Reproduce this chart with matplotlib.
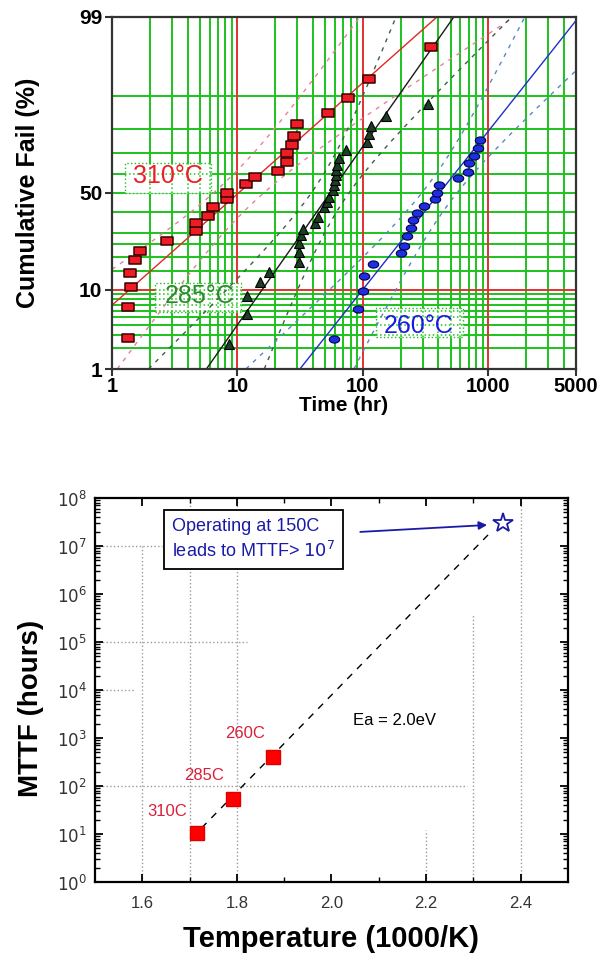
import numpy as np
import matplotlib
matplotlib.use('Agg')
import matplotlib.pyplot as plt
from matplotlib.path import Path
from matplotlib.patches import Rectangle
from matplotlib.ticker import NullLocator, FixedLocator, NullFormatter
from statistics import NormalDist

plt.rcParams['font.family'] = ['Liberation Sans', 'DejaVu Sans']

# ---------------- data: top chart (lognormal probability plot) ----------------
red_t = [1.34, 1.34, 1.42, 1.39, 1.53, 1.68, 2.75, 4.70, 4.70, 5.86, 6.43, 8.32, 8.32,
         11.8, 13.7, 20.9, 24.7, 24.7, 27.0, 28.1, 29.6, 52.5, 75.9, 112, 350]
red_p = [2.8, 6.6, 10.7, 14.5, 18.8, 22.2, 26.3, 30.8, 34.6, 38.1, 42.7, 46.8, 50.0,
         54.7, 58.4, 61.4, 65.9, 70.1, 73.7, 77.4, 81.9, 85.5, 89.5, 93.4, 97.3]

blk_t = [8.63, 12.0, 12.0, 15.0, 18.0, 30.8, 30.8, 30.8, 31.9, 33.1, 41.3, 43.6, 48.8, 51.5,
         53.5, 57.5, 58.6, 59.7, 60.8, 60.8, 61.9, 64.3, 73.1, 107.6, 111.7, 115.9, 152.8, 331]
blk_p = [2.3, 5.5, 8.7, 12.0, 14.8, 18.1, 21.8, 25.5, 28.9, 31.7, 34.6, 37.6, 42.7, 45.3,
         47.9, 51.6, 54.2, 56.8, 59.4, 61.9, 64.4, 67.8, 71.5, 75.0, 78.2, 81.2, 84.5, 88.0]

blu_t = [58.6, 91.2, 100, 101.9, 120.2, 201, 213, 225, 242, 251, 270, 308, 377, 391, 406,
         575, 692, 705, 773, 832, 863]
blu_p = [2.7, 6.3, 9.8, 13.7, 17.4, 21.4, 24.2, 28.5, 32.2, 36.1, 39.6, 43.2, 46.8, 50.0, 54.2,
         57.9, 60.9, 65.4, 68.8, 72.4, 75.8]

# lognormal fit parameters (median hours, sigma in log10 units, band half-width)
fit_t50 = [10.2, 54.8, 407]
fit_sigma = [0.68, 0.424, 0.478]
band_w = [0.20, 0.15, 0.14]

temp_labels = ['310°C', '285°C', '260°C']
x_ticks_top = [1, 10, 100, 1000, 5000]
y_ticks_top = [1, 10, 50, 99]
grid_pct = [2, 3, 4, 5, 6, 7, 8, 9, 15, 20, 25, 30, 40, 50, 60, 70, 80, 90]
grid_pct_red = [10]
grid_time = [k * 10 ** d for d in range(0, 3) for k in range(2, 10)] + [2000, 3000, 4000]
grid_time_red = [10, 100, 1000]

# ---------------- data: bottom chart (Arrhenius) ----------------
inv_T = [1.715, 1.792, 1.876]
mttf = [10.5, 53, 400]
arr_labels = ['310C', '285C', '260C']
op_invT = [2.363]
op_mttf = [3.0e7]
Ea_eV = 2.0
x_ticks_bot = [1.6, 1.8, 2.0, 2.2, 2.4]
x_minor_bot = [1.7, 1.9, 2.1, 2.3]
y_ticks_bot = [10.0 ** k for k in range(0, 9)]
y_minor_bot = [m * 10.0 ** k for k in range(0, 8) for m in range(2, 10)]

# ---------------- figure ----------------
fig = plt.figure(figsize=(6, 9.58), dpi=100)

ND = NormalDist()


def fwd(p):
    p = np.clip(np.asarray(p, float) / 100.0, 1e-9, 1 - 1e-9)
    return np.vectorize(ND.inv_cdf, otypes=[float])(p)


def inv(z):
    z = np.asarray(z, float)
    return 100.0 * np.vectorize(ND.cdf, otypes=[float])(z)


GREEN = '#1ec21e'
GRED = '#e23030'

ax1 = fig.add_axes([0.1867, 0.6148, 0.7733, 0.3675])
ax1.set_xscale('log')
ax1.set_yscale('function', functions=(fwd, inv))
ax1.set_xlim(1, 5000)
ax1.set_ylim(1, 99)

for v in grid_time:
    ax1.axvline(v, color=GREEN, lw=1.4, zorder=1)
for v in grid_time_red:
    ax1.axvline(v, color=GRED, lw=1.4, zorder=1.1)
for p in grid_pct:
    ax1.axhline(p, color=GREEN, lw=1.4, zorder=1)
for p in grid_pct_red:
    ax1.axhline(p, color=GRED, lw=1.4, zorder=1.1)


def dotted_region(t0, t1, p0, p1):
    ax1.add_patch(Rectangle((t0, p0), t1 - t0, p1 - p0, facecolor='white',
                            edgecolor=GREEN, ls=':', lw=1.0, zorder=1.5))
    for v in grid_time + grid_time_red:
        if t0 < v < t1:
            ax1.plot([v, v], [p0, p1], color=GREEN, ls=':', lw=1.1, zorder=1.6)
    for p in grid_pct + grid_pct_red:
        if p0 < p < p1:
            ax1.plot([t0, t1], [p, p], color=GREEN, ls=':', lw=1.1, zorder=1.6)


dotted_region(1.27, 6.1, 50, 65.4)
dotted_region(2.2, 10.6, 5.8, 11.7)
dotted_region(127, 631, 2.86, 6.4)

fit_colors = ['#e02828', '#1a1a1a', '#2030c8']
band_colors = ['#e8809a', '#3d5f4a', '#5a86c8']
zz = np.linspace(fwd(1.0), fwd(99.0), 300)
FF = inv(zz)
for t50, sg, w, fc, bc in zip(fit_t50, fit_sigma, band_w, fit_colors, band_colors):
    lt = np.log10(t50) + sg * zz
    ax1.plot(10 ** lt, FF, color=fc, lw=1.0, zorder=3)
    for s in (-1, 1):
        ax1.plot(10 ** (lt + s * w * np.sqrt(1 + (zz / 0.8) ** 2)), FF, color=bc,
                 lw=1.0, ls=(0, (3, 4)), zorder=2.5)

rect_marker = Path([(-1.35, -1), (1.35, -1), (1.35, 1), (-1.35, 1), (-1.35, -1)],
                   [Path.MOVETO, Path.LINETO, Path.LINETO, Path.LINETO, Path.CLOSEPOLY])
th = np.linspace(0, 2 * np.pi, 40)
ell_marker = Path(np.column_stack([1.45 * np.cos(th), np.sin(th)]))

ax1.plot(red_t, red_p, ls='none', marker=rect_marker, ms=8, mfc='#ee1c24',
         mec='#3a0000', mew=1.1, zorder=4)
ax1.plot(blk_t, blk_p, ls='none', marker='^', ms=6.5, mfc='#1d3d25',
         mec='#000000', mew=0.8, zorder=4)
ax1.plot(blu_t, blu_p, ls='none', marker=ell_marker, ms=7.5, mfc='#1e2ee0',
         mec='#00004a', mew=0.8, zorder=4)

ax1.text(2.8, 58.9, temp_labels[0], color='#ee1c24', fontsize=18, ha='center', va='center', zorder=5)
ax1.text(4.97, 8.7, temp_labels[1], color='#2a8a2a', fontsize=18, ha='center', va='center', zorder=5)
ax1.text(280, 3.95, temp_labels[2], color='#1a1ae6', fontsize=18, ha='center', va='center', zorder=5)

ax1.xaxis.set_major_locator(FixedLocator(x_ticks_top))
ax1.set_xticklabels([str(v) for v in x_ticks_top], fontweight='bold', fontsize=14.5)
ax1.xaxis.set_minor_locator(NullLocator())
ax1.yaxis.set_major_locator(FixedLocator(y_ticks_top))
ax1.set_yticklabels([str(v) for v in y_ticks_top], fontweight='bold', fontsize=15)
ax1.yaxis.set_minor_locator(NullLocator())
ax1.tick_params(direction='out', length=5, width=1.5, color='#333333', pad=2)
ax1.tick_params(axis='x', pad=1)
for sp in ax1.spines.values():
    sp.set_color('#333333')
    sp.set_linewidth(1.6)
    sp.set_zorder(6)
ax1.set_xlabel('Time (hr)', fontsize=15, fontweight='bold', labelpad=0)
ax1.set_ylabel('Cumulative Fail (%)', fontsize=18, fontweight='bold', labelpad=28)

# ---------------- bottom chart ----------------
ax2 = fig.add_axes([0.1583, 0.0793, 0.7883, 0.4009])
ax2.set_yscale('log')
ax2.set_xlim(1.5, 2.5)
ax2.set_ylim(1, 1e8)

gcol = '#9a9a9a'
# partial dotted gridlines as in the original
hsegs = [(1e7, 1.5, 1.642), (1e5, 1.5, 1.822), (1e4, 1.5, 1.585), (1e2, 1.5, 2.287)]
vsegs = [(1.6, 1, 1e7), (1.7, 1, 1e8), (1.8, 1, 1e8), (2.2, 1, 12), (2.3, 1, 3.6e5), (2.4, 1, 1e8)]
for y, a, b in hsegs:
    ax2.plot([a, b], [y, y], color=gcol, ls=':', lw=1.0, zorder=1)
for x, a, b in vsegs:
    ax2.plot([x, x], [a, b], color=gcol, ls=':', lw=1.0, zorder=1)

kB = 8.617e-5
slope = Ea_eV / (kB * np.log(10) * 1000.0)
xl = np.linspace(1.705, 2.34, 50)
yl = 10 ** (np.log10(mttf[0]) + slope * (xl - inv_T[0]))
ax2.plot(xl, yl, color='black', lw=1.0, ls=(0, (5, 5)), zorder=2)

ax2.plot(inv_T, mttf, ls='none', marker='s', ms=9.5, mfc='#ff0000', mec='#e00000', zorder=4)
ax2.plot(op_invT, op_mttf, ls='none', marker='*', ms=15, mfc='white', mec='#1a1aa0',
         mew=1.3, zorder=4)

lab_pos = [(1.652, 30), (1.731, 162), (1.817, 1270)]
for (x, y), s in zip(lab_pos, arr_labels):
    ax2.text(x, y, s, color='#d8203a', fontsize=12, ha='center', va='center')
ax2.text(2.133, 2370, 'Ea = 2.0eV', color='black', fontsize=12, ha='center', va='center')

ax2.text(1.663, 10 ** 7.135, 'Operating at 150C\nleads to MTTF> $10^7$', color='#1a1aa8',
         fontsize=13, ha='left', va='center', linespacing=1.4,
         bbox=dict(boxstyle='square,pad=0.42', facecolor='white', edgecolor='black', lw=1.3),
         zorder=5)
ax2.annotate('', xy=(2.335, 10 ** 7.44), xytext=(2.055, 10 ** 7.29),
             arrowprops=dict(arrowstyle='-|>', color='#1a1aa8', lw=1.3, mutation_scale=12),
             zorder=5)

ax2.xaxis.set_major_locator(FixedLocator(x_ticks_bot))
ax2.set_xticklabels(['%.1f' % v for v in x_ticks_bot], fontsize=12, color='#333333')
ax2.xaxis.set_minor_locator(FixedLocator(x_minor_bot))
ax2.yaxis.set_major_locator(FixedLocator(y_ticks_bot))
ax2.yaxis.set_minor_locator(FixedLocator(y_minor_bot))
ax2.yaxis.set_minor_formatter(NullFormatter())
ax2.set_yticklabels(['$10^{%d}$' % k for k in range(0, 9)], fontsize=12, color='#333333')
ax2.tick_params(which='both', direction='in', top=True, right=True, width=1.3)
ax2.tick_params(axis='x', which='major', length=6, pad=10)
ax2.tick_params(axis='y', which='major', length=6, pad=6)
ax2.tick_params(which='minor', length=3.5, width=1.0)
for sp in ax2.spines.values():
    sp.set_linewidth(1.6)
    sp.set_zorder(6)
ax2.set_xlabel('Temperature (1000/K)', fontsize=21, fontweight='bold', labelpad=10)
ax2.set_ylabel('MTTF (hours)', fontsize=20, fontweight='bold')
ax2.yaxis.set_label_coords(-0.108, 0.453)

fig.savefig('out.png', dpi=100)
